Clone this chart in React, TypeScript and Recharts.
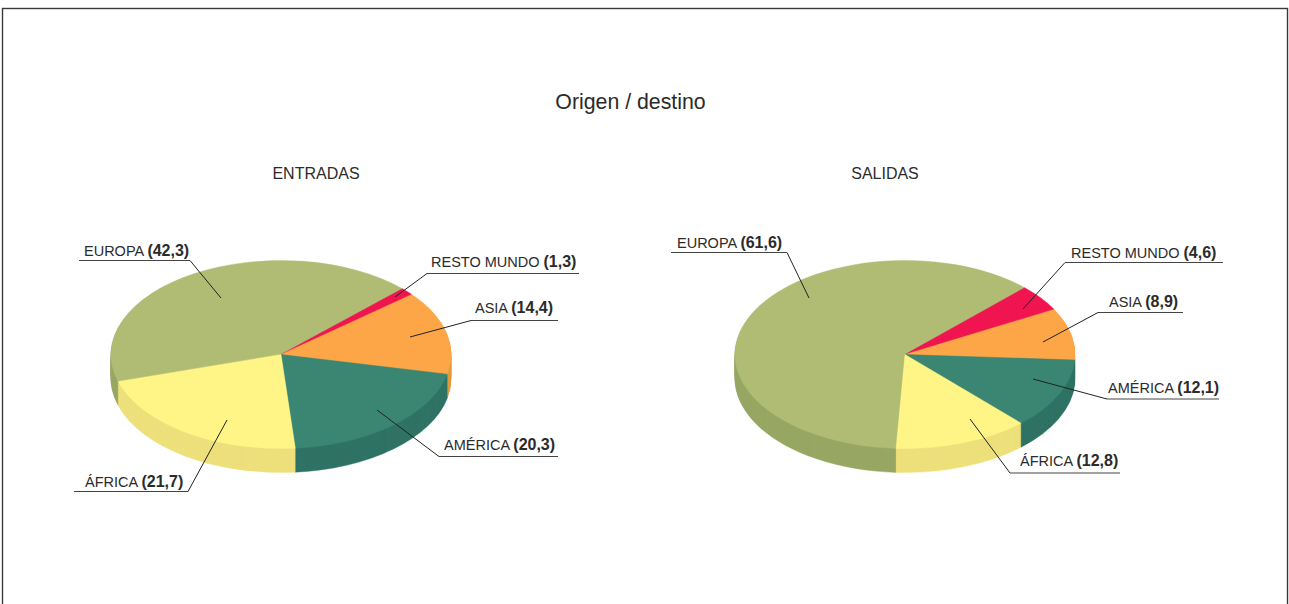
import { PieChart, Pie, Sector } from 'recharts';

const categories = ['EUROPA', 'RESTO MUNDO', 'ASIA', 'AMÉRICA', 'ÁFRICA'];
const entradas = [42.3, 1.3, 14.4, 20.3, 21.7];
const salidas = [61.6, 4.6, 8.9, 12.1, 12.8];

const topColors = ['#b0bc74', '#f01550', '#fca648', '#3b8573', '#fff587'];
const wallColors = ['#98a763', '#c9113f', '#e09a3f', '#2f7365', '#ede07c'];

// pie geometry on the page
const SQUASH = 0.553;
const RADIUS = 170;
const DEPTH = 24;
const CENTER_Y = 354.5;

// label placement: text x, text baseline, underline y, underline start, underline end, elbow x, tip x, tip y
const entradasLabels = [
  [84, 255.6, 260.5, 79, 190, 190, 221, 298],
  [431, 267, 273.5, 427, 579, 427, 395, 297],
  [475, 312.8, 320.5, 471, 558, 471, 410, 337],
  [444, 450, 456.5, 439, 558, 439, 377, 410],
  [85, 486.8, 491.5, 74, 188, 188, 227, 420],
];
const salidasLabels = [
  [677, 248, 252.5, 671, 787, 787, 809, 298],
  [1071, 258, 262.5, 1065, 1223, 1065, 1023, 309],
  [1109, 307, 312.5, 1098, 1183, 1098, 1043, 342],
  [1108, 393, 399, 1107, 1219, 1107, 1033, 379],
  [1020, 466, 473, 1010, 1120, 1010, 970, 419],
];

const buildRows = (values: number[], colors: string[]) =>
  categories.map((name, i) => ({ name, value: values[i], fill: colors[i] }));

// recharts only draws round pies, so flatten each sector around its own centre
const flatSector = (props: any) => (
  <g transform={`translate(0 ${props.cy}) scale(1 ${SQUASH}) translate(0 ${-props.cy})`}>
    <Sector {...props} stroke={props.fill} strokeWidth={0.6} />
  </g>
);

const makeLabel = (values: number[], layout: number[][]) => (props: any) => {
  const i = props.index;
  const [tx, ty, ly, x1, x2, ex, px, py] = layout[i];
  return (
    <g>
      <polyline points={`${px},${py} ${ex},${ly}`} fill="none" stroke="#222" strokeWidth={1} />
      <line x1={x1} x2={x2} y1={ly} y2={ly} stroke="#444" strokeWidth={1} />
      <text x={tx} y={ty} fontSize={14.5} fontFamily="Liberation Sans" fill="#2b2b2b">
        {categories[i] + ' '}
        <tspan fontWeight="bold" fontSize={16}>({String(values[i]).replace('.', ',')})</tspan>
      </text>
    </g>
  );
};

const wallSteps = Array.from({ length: DEPTH }, (_, k) => DEPTH - k);

function pieStack(key: string, cx: number, startAngle: number, values: number[], layout: number[][]) {
  const common = {
    cx,
    dataKey: 'value',
    startAngle,
    endAngle: startAngle - 360,
    outerRadius: RADIUS,
    innerRadius: 0,
    isAnimationActive: false,
    shape: flatSector,
  };
  return [
    ...wallSteps.map((step) => (
      <Pie key={`${key}-wall-${step}`} {...common} cy={CENTER_Y + step} data={buildRows(values, wallColors)} />
    )),
    <Pie
      key={`${key}-top`}
      {...common}
      cy={CENTER_Y}
      data={buildRows(values, topColors)}
      labelLine={false}
      label={makeLabel(values, layout)}
    />,
  ];
}

export default function App() {
  return (
    <div style={{ position: 'absolute', left: 0, top: 0, width: 1289, height: 604 }}>
      <PieChart width={1289} height={604} margin={{ top: 0, right: 0, bottom: 0, left: 0 }}>
        <rect x={2.5} y={8.5} width={1285} height={620} fill="none" stroke="#3a3a3a" strokeWidth={1.4} />
        <text x={630.5} y={109} textAnchor="middle" fontSize={21.3} fontFamily="Liberation Sans" fill="#2b2b2b">
          Origen / destino
        </text>
        <text x={316} y={178.5} textAnchor="middle" fontSize={16} fontFamily="Liberation Sans" fill="#2b2b2b">
          ENTRADAS
        </text>
        <text x={885} y={178.5} textAnchor="middle" fontSize={16} fontFamily="Liberation Sans" fill="#2b2b2b">
          SALIDAS
        </text>
        {pieStack('entradas', 281, 196.7, entradas, entradasLabels)}
        {pieStack('salidas', 905, 267, salidas, salidasLabels)}
      </PieChart>
    </div>
  );
}
